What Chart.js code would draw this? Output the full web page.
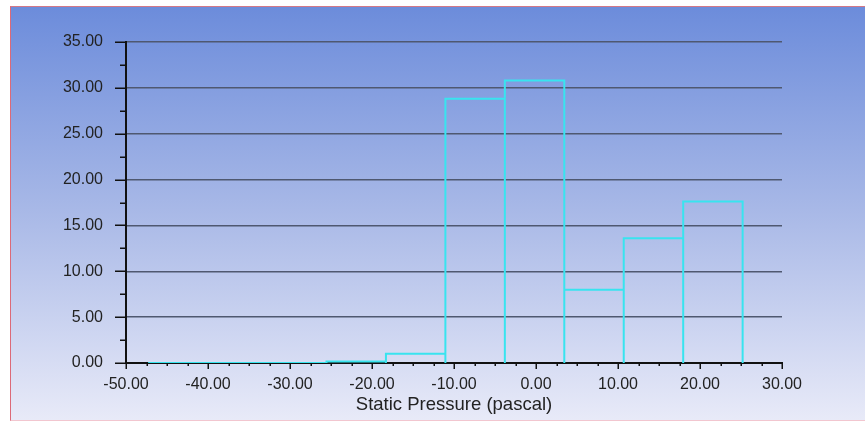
<!DOCTYPE html>
<html><head><meta charset="utf-8">
<script src="https://cdn.jsdelivr.net/npm/chart.js@4.4.1/dist/chart.umd.min.js"></script>
<style>
html,body{margin:0;padding:0;background:#fff;width:865px;height:421px;overflow:hidden;}
#frame{position:absolute;left:10px;top:6px;width:855px;height:413px;border-left:1px solid #dc6a78;border-top:1px solid #d27888;border-bottom:1px solid #f2c6cf;background:linear-gradient(to bottom,#6c8cdb 0%,#a9b9e7 50%,#e8eaf8 100%);}
#wrap{position:absolute;left:0;top:0;width:865px;height:421px;}
</style></head><body>
<div id="frame"></div>
<div id="wrap"><canvas id="c" width="865" height="421"></canvas></div>
<script>
// Histogram bin edges (pascal) and percentage in each bin
const binEdges = [-47.3, -40.05, -32.8, -25.55, -18.3, -11.05, -3.8, 3.45, 10.7, 17.95, 25.2];
const binPercent = [0, 0, 0, 0.15, 1.0, 28.8, 30.8, 8.0, 13.6, 17.6];
// Axis tick labels
const xTickLabels = [-50, -40, -30, -20, -10, 0, 10, 20, 30];
const yTickLabels = [0, 5, 10, 15, 20, 25, 30, 35];
const xTitle = 'Static Pressure (pascal)';

const isMajor = (v, list) => list.some(m => Math.abs(m - v) < 1e-6);

// outline points of each bin rectangle
const outline = [];
for (let i = 0; i < binPercent.length; i++) {
  outline.push({x: binEdges[i], y: 0});
  outline.push({x: binEdges[i], y: binPercent[i]});
  outline.push({x: binEdges[i + 1], y: binPercent[i]});
  outline.push({x: binEdges[i + 1], y: 0});
}

const tickMarks = {
  id: 'tickMarks',
  afterDraw(chart) {
    const {ctx, chartArea: {left, bottom}, scales: {x, y}} = chart;
    ctx.save();
    ctx.strokeStyle = '#111';
    ctx.lineWidth = 1.5;
    for (const t of y.ticks) {
      const py = Math.round(y.getPixelForValue(t.value)) + 0.25;
      const len = isMajor(t.value, yTickLabels) ? 11 : 6;
      ctx.beginPath(); ctx.moveTo(left - len, py); ctx.lineTo(left, py); ctx.stroke();
    }
    for (const t of x.ticks) {
      const px = Math.round(x.getPixelForValue(t.value)) + 0.25;
      const len = isMajor(t.value, xTickLabels) ? 6 : 3;
      ctx.beginPath(); ctx.moveTo(px, bottom); ctx.lineTo(px, bottom + len); ctx.stroke();
    }
    ctx.restore();
  }
};

Chart.defaults.font.family = '"Liberation Sans", Arial, sans-serif';

new Chart(document.getElementById('c'), {
  type: 'line',
  data: {
    datasets: [{
      data: outline,
      borderColor: '#38e4ef',
      borderWidth: 2,
      pointRadius: 0,
      fill: false,
      tension: 0,
      borderJoinStyle: 'miter'
    }]
  },
  options: {
    responsive: false,
    animation: false,
    devicePixelRatio: 1,
    layout: {padding: {left: 0, top: 42, right: 83, bottom: 0}},
    plugins: {legend: {display: false}, tooltip: {enabled: false}},
    scales: {
      x: {
        type: 'linear',
        min: -50, max: 30,
        afterFit: s => { s.height = 58; },
        ticks: {
          stepSize: 2.5, autoSkip: false, maxRotation: 0, padding: 12,
          color: '#222', font: {size: 16},
          callback: v => isMajor(v, xTickLabels) ? v.toFixed(2) : ''
        },
        grid: {color: 'rgba(0,0,0,0)', drawTicks: false, drawOnChartArea: false},
        border: {color: '#111', width: 2},
        title: {display: true, text: xTitle, color: '#222', font: {size: 18.5}, padding: {top: 0, bottom: 5}}
      },
      y: {
        min: 0, max: 35,
        afterFit: s => { s.width = 126; },
        ticks: {
          stepSize: 2.5, autoSkip: false, padding: 23,
          color: '#222', font: {size: 16},
          callback: v => isMajor(v, yTickLabels) ? v.toFixed(2) : ''
        },
        grid: {
          drawTicks: false, lineWidth: 1.5,
          color: c => isMajor(c.tick.value, yTickLabels) ? '#4f5870' : 'rgba(0,0,0,0)'
        },
        border: {color: '#111', width: 2}
      }
    }
  },
  plugins: [tickMarks]
});
</script>
</body></html>
